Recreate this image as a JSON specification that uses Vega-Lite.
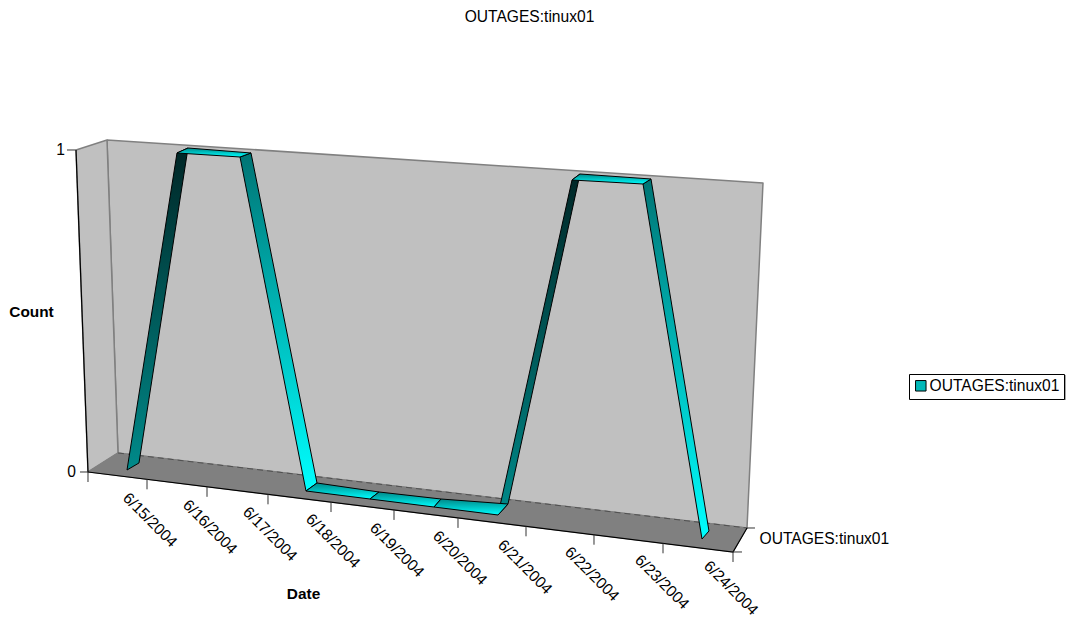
{"$schema":"https://vega.github.io/schema/vega-lite/v6.json","width":1068,"height":590,"autosize":"none","padding":{"left":0,"right":0,"top":28,"bottom":0},"background":"white","title":{"text":"OUTAGES:tinux01","font":"Liberation Sans","fontSize":15.6,"fontWeight":"normal","color":"black","anchor":"middle","dx":-4.5,"offset":2},"config":{"view":{"stroke":null},"font":"Liberation Sans"},
"datasets":{"faces":[
{"poly":"back","seq":0,"day":0.2923,"count":1.0311},{"poly":"back","seq":1,"day":10.3846,"count":0.8975},{"poly":"back","seq":2,"day":10.1385,"count":-0.1739},{"poly":"back","seq":3,"day":0.4615,"count":0.059},{"poly":"back","seq":4,"day":0.2923,"count":1.0311},
{"poly":"left","seq":0,"day":-0.1846,"count":1.0},{"poly":"left","seq":1,"day":0.2923,"count":1.0311},{"poly":"left","seq":2,"day":0.4615,"count":0.059},{"poly":"left","seq":3,"day":0,"count":0},{"poly":"left","seq":4,"day":-0.1846,"count":1.0},
{"poly":"floor","seq":0,"day":0,"count":0},{"poly":"floor","seq":1,"day":0.4615,"count":0.059},{"poly":"floor","seq":2,"day":10.1385,"count":-0.1739},{"poly":"floor","seq":3,"day":9.9231,"count":-0.2484},{"poly":"floor","seq":4,"day":0,"count":0},
{"poly":"edgeL","seq":0,"day":-0.1846,"count":1.0},{"poly":"edgeL","seq":1,"day":0,"count":0},
{"poly":"edgeF","seq":0,"day":0,"count":0},{"poly":"edgeF","seq":1,"day":9.9231,"count":-0.2484},{"poly":"edgeF","seq":2,"day":10.1385,"count":-0.1739},
{"poly":"edgeB","seq":0,"day":0.4615,"count":0.059},{"poly":"edgeB","seq":1,"day":10.1385,"count":-0.1739},
{"poly":"band1","seq":0,"day":1.3692,"count":0.9907},{"poly":"band1","seq":1,"day":1.5385,"count":1.0062},{"poly":"band1","seq":2,"day":0.7846,"count":0.028},{"poly":"band1","seq":3,"day":0.6,"count":0.0062},{"poly":"band1","seq":4,"day":1.3692,"count":0.9907},
{"poly":"band3","seq":0,"day":6.3077,"count":-0.1335},{"poly":"band3","seq":1,"day":6.4615,"count":-0.0994},{"poly":"band3","seq":2,"day":7.5692,"count":0.9255},{"poly":"band3","seq":3,"day":7.4462,"count":0.9068},{"poly":"band3","seq":4,"day":6.3077,"count":-0.1335},
{"poly":"band2","seq":0,"day":2.3385,"count":0.9783},{"poly":"band2","seq":1,"day":2.5077,"count":0.9907},{"poly":"band2","seq":2,"day":3.5231,"count":-0.0342},{"poly":"band2","seq":3,"day":3.3538,"count":-0.059},{"poly":"band2","seq":4,"day":2.3385,"count":0.9783},
{"poly":"band4","seq":0,"day":8.5385,"count":0.8944},{"poly":"band4","seq":1,"day":8.6615,"count":0.9099},{"poly":"band4","seq":2,"day":9.5538,"count":-0.1832},{"poly":"band4","seq":3,"day":9.4462,"count":-0.2081},{"poly":"band4","seq":4,"day":8.5385,"count":0.8944},
{"poly":"top1","seq":0,"day":1.3692,"count":0.9907},{"poly":"top1","seq":1,"day":1.5385,"count":1.0062},{"poly":"top1","seq":2,"day":2.5077,"count":0.9907},{"poly":"top1","seq":3,"day":2.3385,"count":0.9783},{"poly":"top1","seq":4,"day":1.3692,"count":0.9907},
{"poly":"top2","seq":0,"day":7.4462,"count":0.9068},{"poly":"top2","seq":1,"day":7.5692,"count":0.9255},{"poly":"top2","seq":2,"day":8.6615,"count":0.9099},{"poly":"top2","seq":3,"day":8.5385,"count":0.8944},{"poly":"top2","seq":4,"day":7.4462,"count":0.9068},
{"poly":"flat1","seq":0,"day":3.3538,"count":-0.059},{"poly":"flat1","seq":1,"day":3.5231,"count":-0.0342},{"poly":"flat1","seq":2,"day":4.4769,"count":-0.0621},{"poly":"flat1","seq":3,"day":4.3385,"count":-0.0839},{"poly":"flat1","seq":4,"day":3.3538,"count":-0.059},
{"poly":"flat2","seq":0,"day":4.3385,"count":-0.0839},{"poly":"flat2","seq":1,"day":4.4769,"count":-0.0621},{"poly":"flat2","seq":2,"day":5.4308,"count":-0.0839},{"poly":"flat2","seq":3,"day":5.3231,"count":-0.1087},{"poly":"flat2","seq":4,"day":4.3385,"count":-0.0839},
{"poly":"flat3","seq":0,"day":5.3231,"count":-0.1087},{"poly":"flat3","seq":1,"day":5.4308,"count":-0.0839},{"poly":"flat3","seq":2,"day":6.4615,"count":-0.0994},{"poly":"flat3","seq":3,"day":6.3077,"count":-0.1335},{"poly":"flat3","seq":4,"day":5.3231,"count":-0.1087}
],
"vticks":[{"day":0,"count":0,"count2":-0.0311},{"day":0.9077,"count":-0.0227,"count2":-0.0538},{"day":1.8308,"count":-0.046,"count2":-0.0771},{"day":2.7692,"count":-0.0693,"count2":-0.1004},{"day":3.7385,"count":-0.0932,"count2":-0.1243},{"day":4.7077,"count":-0.1177,"count2":-0.1488},{"day":5.6923,"count":-0.1425,"count2":-0.1736},{"day":6.7385,"count":-0.1686,"count2":-0.1997},{"day":7.7846,"count":-0.1947,"count2":-0.2258},{"day":8.8462,"count":-0.2214,"count2":-0.2525},{"day":9.9231,"count":-0.2484,"count2":-0.2795}],
"hticks":[{"day":-0.1846,"day2":-0.3231,"count":1},{"day":0,"day2":-0.1231,"count":0},{"day":9.9231,"day2":10.0615,"count":-0.2484},{"day":10.1385,"day2":10.2615,"count":-0.1739}],
"dates":[{"label":"6/15/2004","day":0.9538,"count":-0.1491},{"label":"6/16/2004","day":1.8769,"count":-0.1708},{"label":"6/17/2004","day":2.8,"count":-0.1925},{"label":"6/18/2004","day":3.7692,"count":-0.2143},{"label":"6/19/2004","day":4.7538,"count":-0.2422},{"label":"6/20/2004","day":5.7231,"count":-0.2671},{"label":"6/21/2004","day":6.7231,"count":-0.295},{"label":"6/22/2004","day":7.7538,"count":-0.3168},{"label":"6/23/2004","day":8.8308,"count":-0.3416},{"label":"6/24/2004","day":9.8923,"count":-0.3603}]},
"encoding":{"x":{"field":"day","type":"quantitative","axis":null,"scale":{"domain":[-1.353846,15.076923],"nice":false,"zero":false}},"y":{"field":"count","type":"quantitative","axis":null,"scale":{"domain":[-0.45342,1.37888],"nice":false,"zero":false}}},
"layer":[
{"data":{"name":"faces"},"transform":[{"filter":"datum.poly==='back'||datum.poly==='left'"}],"mark":{"type":"line","fill":"#c0c0c0","stroke":"#808080","strokeWidth":1.5,"strokeJoin":"round"},"encoding":{"detail":{"field":"poly"},"order":{"field":"seq"}}},
{"data":{"name":"faces"},"transform":[{"filter":"datum.poly==='floor'"}],"mark":{"type":"line","fill":"#808080","stroke":"#808080","strokeWidth":1},"encoding":{"detail":{"field":"poly"},"order":{"field":"seq"}}},
{"data":{"name":"faces"},"transform":[{"filter":"datum.poly==='edgeB'"}],"mark":{"type":"line","stroke":"#505050","strokeWidth":1,"strokeDash":[6,4]},"encoding":{"detail":{"field":"poly"},"order":{"field":"seq"}}},
{"data":{"name":"faces"},"transform":[{"filter":"datum.poly==='edgeL'||datum.poly==='edgeF'"}],"mark":{"type":"line","stroke":"black","strokeWidth":1.2},"encoding":{"detail":{"field":"poly"},"order":{"field":"seq"}}},
{"data":{"name":"vticks"},"mark":{"type":"rule","stroke":"#333333","strokeWidth":1},"encoding":{"y2":{"field":"count2"}}},
{"data":{"name":"hticks"},"mark":{"type":"rule","stroke":"#333333","strokeWidth":1},"encoding":{"x2":{"field":"day2"}}},
{"data":{"name":"faces"},"transform":[{"filter":"datum.poly==='band1'||datum.poly==='band3'"}],"mark":{"type":"line","stroke":"black","strokeWidth":1,"strokeJoin":"round","fill":{"gradient":"linear","x1":0,"y1":0,"x2":0,"y2":1,"stops":[{"offset":0,"color":"#002626"},{"offset":1,"color":"#008a8a"}]}},"encoding":{"detail":{"field":"poly"},"order":{"field":"seq"}}},
{"data":{"name":"faces"},"transform":[{"filter":"datum.poly==='band2'||datum.poly==='band4'"}],"mark":{"type":"line","stroke":"black","strokeWidth":1,"strokeJoin":"round","fill":{"gradient":"linear","x1":0,"y1":0,"x2":0,"y2":1,"stops":[{"offset":0,"color":"#007474"},{"offset":1,"color":"#00ffff"}]}},"encoding":{"detail":{"field":"poly"},"order":{"field":"seq"}}},
{"data":{"name":"faces"},"transform":[{"filter":"datum.poly==='top1'||datum.poly==='top2'||datum.poly==='flat1'||datum.poly==='flat2'||datum.poly==='flat3'"}],"mark":{"type":"line","stroke":"black","strokeWidth":1,"strokeJoin":"round","fill":{"gradient":"linear","x1":0,"y1":0,"x2":0,"y2":1,"stops":[{"offset":0,"color":"#008888"},{"offset":1,"color":"#00ffff"}]}},"encoding":{"detail":{"field":"poly"},"order":{"field":"seq"}}},
{"data":{"name":"dates"},"mark":{"type":"text","angle":45,"align":"center","baseline":"middle","font":"Liberation Sans","fontSize":15.6,"color":"black"},"encoding":{"text":{"field":"label"}}},
{"data":{"values":[{"label":"1","day":-0.3538,"count":1},{"label":"0","day":-0.1846,"count":0}]},"mark":{"type":"text","align":"right","baseline":"middle","font":"Liberation Sans","fontSize":15.6,"color":"black"},"encoding":{"text":{"field":"label"}}},
{"data":{"values":[{"label":"OUTAGES:tinux01","day":10.3308,"count":-0.208}]},"mark":{"type":"text","align":"left","baseline":"middle","font":"Liberation Sans","fontSize":15.6,"color":"black"},"encoding":{"text":{"field":"label"}}},
{"data":{"values":[{"label":"Count","day":-0.8692,"count":0.4969},{"label":"Date","day":3.3154,"count":-0.3789}]},"mark":{"type":"text","align":"center","baseline":"middle","font":"Liberation Sans","fontSize":15.4,"fontWeight":"bold","color":"black"},"encoding":{"text":{"field":"label"}}},
{"data":{"values":[{"day":15.03,"count":0.3012,"count2":0.2236}]},"mark":{"type":"rule","stroke":"#808080","strokeWidth":1.5},"encoding":{"y2":{"field":"count2"}}},
{"data":{"values":[{"series":"OUTAGES:tinux01","day":1,"count":0.5}]},"mark":{"type":"point","filled":true,"size":0,"opacity":1},"encoding":{"color":{"field":"series","type":"nominal","scale":{"range":["#00b8b8"]},"legend":{"title":null,"orient":"none","legendX":909,"legendY":346,"padding":4,"fillColor":"white","strokeColor":"black","symbolType":"square","symbolSize":110,"symbolOpacity":1,"symbolStrokeColor":"black","symbolStrokeWidth":1,"labelFont":"Liberation Sans","labelFontSize":15.6,"labelColor":"black","labelOffset":1,"labelLimit":200}}}}
]}
